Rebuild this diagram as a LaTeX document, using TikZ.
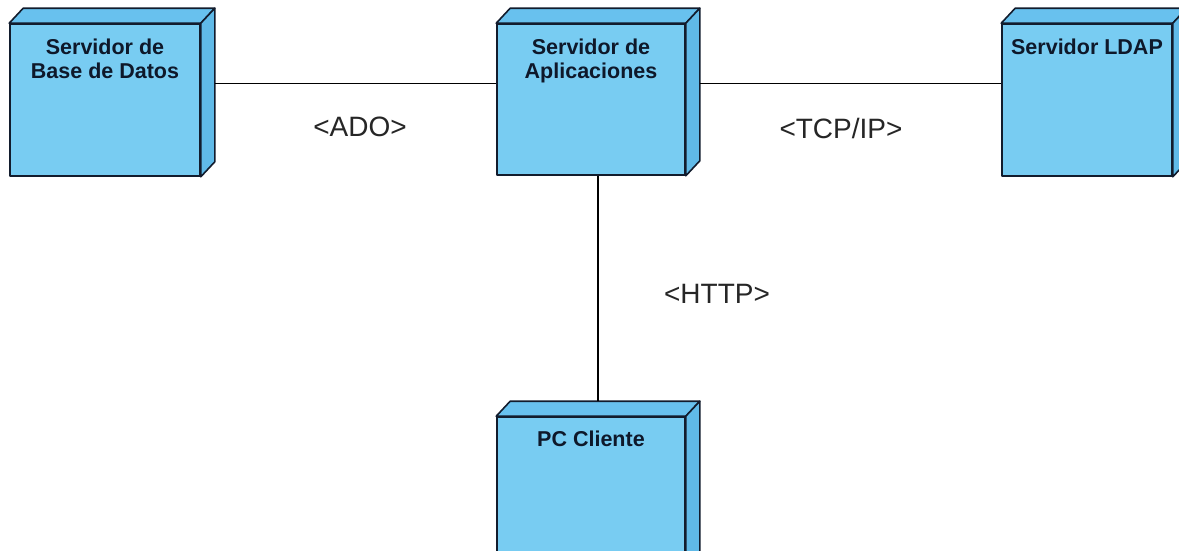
\documentclass[tikz,border=0pt]{standalone}
\usepackage{fontspec}
\setmainfont{Liberation Sans}
\definecolor{frontc}{RGB}{120,204,242}
\definecolor{topc}{RGB}{104,193,238}
\definecolor{sidec}{RGB}{96,186,232}
\definecolor{edgec}{RGB}{18,28,45}
\definecolor{titlec}{RGB}{14,24,42}
\tikzset{
  devbox/.style={draw=edgec, fill=frontc, line width=1.6pt, rectangle, inner sep=0pt, line join=round},
  devtitle/.style={font={\bfseries\fontsize{21.5}{24}\selectfont}, text=titlec, align=center, inner sep=0pt, anchor=north},
  topface/.style={draw=edgec, fill=topc, line width=1.6pt, line join=round},
  sideface/.style={draw=edgec, fill=sidec, line width=1.6pt, line join=round},
  link/.style={draw=black, line width=1.4pt},
  linklabel/.style={font={\fontsize{28}{30}\selectfont}, text=black!85, inner sep=0pt}
}
\newcommand\drawfaces[1]{%
  \path[topface] (#1.north west) -- ([shift={(14pt,15pt)}]#1.north west) -- ([shift={(14pt,15pt)}]#1.north east) -- (#1.north east) -- cycle;
  \path[sideface] (#1.north east) -- ([shift={(14pt,15pt)}]#1.north east) -- ([shift={(14pt,15pt)}]#1.south east) -- (#1.south east) -- cycle;
}
\begin{document}
\begin{tikzpicture}[x=1pt,y=-1pt]
\clip (0,0) rectangle (1179,550);
\fill[white] (0,0) rectangle (1179,550);
% nodes
\node[devbox, minimum width=190pt, minimum height=152pt,
  label={[devtitle, yshift=-16pt]north:{Servidor de\\Base de Datos}}] (db) at (105,100) {};
\node[devbox, minimum width=188pt, minimum height=151pt,
  label={[devtitle, yshift=-16pt]north:{Servidor de\\Aplicaciones}}] (app) at (591,99.5) {};
\node[devbox, minimum width=170pt, minimum height=152pt,
  label={[devtitle, yshift=-16pt]north:{Servidor LDAP}}] (ldap) at (1087,100) {};
\node[devbox, minimum width=188pt, minimum height=152pt,
  label={[devtitle, yshift=-15pt]north:{PC Cliente}}] (pc) at (591,493) {};
\drawfaces{db}
\drawfaces{app}
\drawfaces{ldap}
\drawfaces{pc}
% connectors
\draw[link] ([xshift=14pt,yshift=-60pt]db.north east) -- ([yshift=-60pt]app.north west);
\draw[link] ([xshift=14pt,yshift=-60pt]app.north east) -- ([yshift=-60pt]ldap.north west);
\draw[link] ([xshift=7pt]app.south) -- ([xshift=7pt,yshift=15pt]pc.north);
% labels
\node[linklabel] (ado) at (360,127) {<ADO>};
\node[linklabel] (tcp) at (841,128) {<TCP/IP>};
\node[linklabel] (http) at (717,294) {<HTTP>};
\end{tikzpicture}
\end{document}
